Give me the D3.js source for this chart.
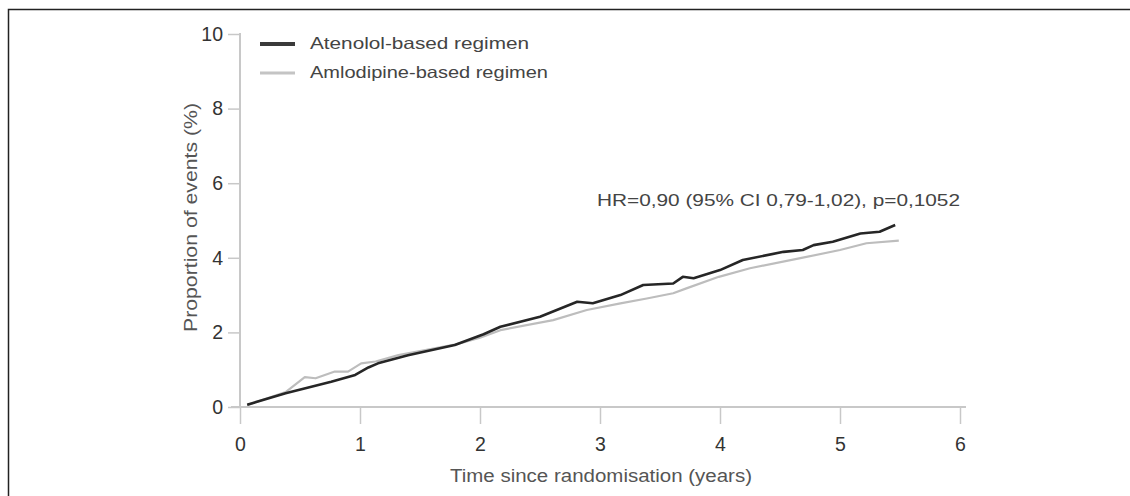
<!DOCTYPE html>
<html>
<head>
<meta charset="utf-8">
<script src="https://cdn.jsdelivr.net/npm/d3@7"></script>
<style>
  body { margin: 0; background: #fff; }
  text { font-family: "Liberation Sans", Arial, sans-serif; }
</style>
</head>
<body>
<div id="graph"></div>
<script>
// values
var xTicks = [0, 1, 2, 3, 4, 5, 6];
var yTicks = [0, 2, 4, 6, 8, 10];
var seriesNames = ["Atenolol-based regimen", "Amlodipine-based regimen"];

var atenololT = [0.06, 0.38, 0.76, 0.96, 1.07, 1.15, 1.40, 1.79, 2.03, 2.17, 2.50, 2.81, 2.94, 3.17, 3.36, 3.61, 3.69, 3.78, 4.00, 4.19, 4.53, 4.69, 4.78, 4.94, 5.17, 5.33, 5.46];
var atenololV = [0.06, 0.37, 0.68, 0.86, 1.06, 1.17, 1.39, 1.66, 1.95, 2.15, 2.42, 2.82, 2.78, 3.00, 3.27, 3.31, 3.49, 3.45, 3.67, 3.94, 4.16, 4.21, 4.34, 4.43, 4.65, 4.70, 4.88];

var amlodipineT = [0.06, 0.38, 0.54, 0.63, 0.79, 0.90, 1.01, 1.13, 1.32, 1.60, 1.80, 2.00, 2.17, 2.61, 2.89, 3.17, 3.39, 3.61, 3.72, 3.99, 4.25, 4.67, 5.00, 5.22, 5.49];
var amlodipineV = [0.05, 0.40, 0.80, 0.77, 0.95, 0.95, 1.17, 1.22, 1.39, 1.56, 1.68, 1.86, 2.06, 2.33, 2.60, 2.78, 2.91, 3.05, 3.18, 3.49, 3.72, 3.99, 4.21, 4.39, 4.46];

var annotation = "HR=0,90 (95% CI 0,79-1,02), p=0,1052";

var W = 1130, H = 496;
var svg = d3.select("#graph").append("svg")
  .attr("width", W).attr("height", H);

// frame around the figure
svg.append("rect")
  .attr("x", 8.5).attr("y", 9.5)
  .attr("width", 1200).attr("height", 600)
  .attr("fill", "none").attr("stroke", "#222").attr("stroke-width", 1.5);

var x = d3.scaleLinear().domain([0, 6]).range([240, 960]);
var y = d3.scaleLinear().domain([0, 10]).range([407, 34]);

var axisColor = "#c8c8c8";

// x axis
var gx = svg.append("g").attr("transform", "translate(0," + y(0) + ")")
  .call(d3.axisBottom(x).tickValues(xTicks).tickFormat(d3.format("d"))
    .tickSize(17).tickPadding(13).tickSizeOuter(0));
gx.select(".domain").remove();
gx.append("line").attr("x1", 231).attr("x2", 966).attr("stroke", axisColor).attr("stroke-width", 2);

// y axis
var gy = svg.append("g").attr("transform", "translate(" + x(0) + ",0)")
  .call(d3.axisLeft(y).tickValues(yTicks).tickFormat(d3.format("d"))
    .tickSize(12).tickPadding(5).tickSizeOuter(0));
gy.select(".domain").remove();
gy.append("line").attr("y1", 33).attr("y2", y(0)).attr("stroke", axisColor).attr("stroke-width", 2);

svg.selectAll(".tick line").attr("stroke", axisColor).attr("stroke-width", 1.5);
svg.selectAll(".tick text").attr("fill", "#333").style("font-size", "19.5px");

// axis titles
svg.append("text")
  .attr("x", 450).attr("y", 482)
  .attr("textLength", 302).attr("lengthAdjust", "spacingAndGlyphs")
  .attr("fill", "#555").style("font-size", "17.5px")
  .text("Time since randomisation (years)");

svg.append("text")
  .attr("transform", "translate(197,332) rotate(-90)")
  .attr("textLength", 229).attr("lengthAdjust", "spacingAndGlyphs")
  .attr("fill", "#555").style("font-size", "17.5px")
  .text("Proportion of events (%)");

// curves
var line = d3.line().x(function(d) { return x(d[0]); }).y(function(d) { return y(d[1]); });

var amlo = d3.zip(amlodipineT, amlodipineV);
var aten = d3.zip(atenololT, atenololV);

svg.append("path").datum(amlo).attr("d", line)
  .attr("fill", "none").attr("stroke", "#bdbdbd").attr("stroke-width", 2.2)
  .attr("stroke-linejoin", "round");
svg.append("path").datum(aten).attr("d", line)
  .attr("fill", "none").attr("stroke", "#262626").attr("stroke-width", 2.6)
  .attr("stroke-linejoin", "round");

// legend
var legColors = ["#3a3a3a", "#c4c4c4"];
var legWidths = [4, 2.8];
var legTextLen = [219, 238];
var leg = svg.selectAll("g.leg").data(seriesNames).enter().append("g")
  .attr("class", "leg")
  .attr("transform", function(d, i) { return "translate(260," + (44 + i * 29) + ")"; });
leg.append("line").attr("x1", 0).attr("x2", 35)
  .attr("stroke", function(d, i) { return legColors[i]; })
  .attr("stroke-width", function(d, i) { return legWidths[i]; });
leg.append("text").attr("x", 50).attr("y", 5)
  .attr("textLength", function(d, i) { return legTextLen[i]; })
  .attr("lengthAdjust", "spacingAndGlyphs")
  .attr("fill", "#444").style("font-size", "16.5px")
  .text(function(d) { return d; });

// annotation
svg.append("text")
  .attr("x", 597).attr("y", 206)
  .attr("textLength", 363).attr("lengthAdjust", "spacingAndGlyphs")
  .attr("fill", "#444").style("font-size", "17px")
  .text(annotation);
</script>
</body>
</html>
